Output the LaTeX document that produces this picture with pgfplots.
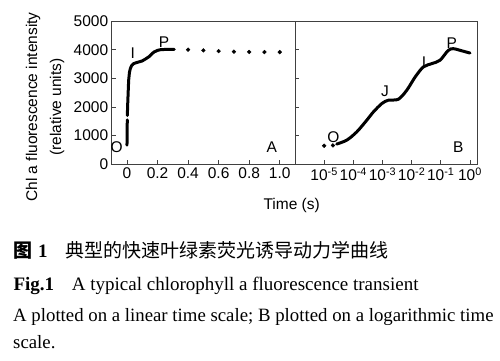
\documentclass[border=0pt]{standalone}
\usepackage{fontspec}
\setmainfont{Liberation Serif}
\setsansfont{Liberation Sans}
\newfontfamily\cjk{Noto Sans CJK SC}
\usepackage{pgfplots}
\pgfplotsset{compat=1.18}
\pgfplotsset{
  common/.style={
    scale only axis, height=143.3pt,
    ymin=0, ymax=5000,
    axis line style={black!75, line width=0.9pt},
    tick align=inside, major tick length=4pt,
    tick style={black!75, line width=0.8pt},
    xtick pos=left, ytick pos=left,
    tick label style={font=\sffamily\fontsize{15.5}{18}\selectfont},
    ytick={0,1000,2000,3000,4000,5000},
    minor tick num=0,
  },
  curve/.style={black, line width=3pt, line join=round, line cap=round, no marks},
  dots/.style={only marks, mark=*, mark size=1.9pt, black},
}
\begin{document}
\begin{tikzpicture}
\path[use as bounding box] (0pt,0pt) rectangle (500pt,360pt);
% Panel A
\begin{axis}[common, at={(111.7pt,195.7pt)}, anchor=south west, width=183.3pt,
  xmin=-0.1, xmax=1.1,
  xtick={0,0.2,0.4,0.6,0.8,1.0},
  xticklabels={0,0.2,0.4,0.6,0.8,1.0},
  yticklabels={0,1000,2000,3000,4000,5000}]
\addplot[curve] coordinates {
(0.000,670) (0.001,1000) (0.002,1550)};
\addplot[curve] coordinates {
(0.0025,1700) (0.004,2000) (0.007,2400) (0.011,2930) (0.016,3200) (0.022,3340)
(0.030,3440) (0.044,3513) (0.060,3545) (0.080,3575) (0.099,3605)
(0.120,3670) (0.143,3750) (0.160,3840) (0.176,3915) (0.200,3975)
(0.220,4000) (0.260,4010) (0.310,4010)};
\addplot[dots] coordinates {
(0.4,4000) (0.5,3975) (0.6,3950) (0.7,3930) (0.8,3920) (0.9,3915) (1.0,3915)};
\end{axis}
% Panel B
\begin{axis}[common, at={(295pt,195.7pt)}, anchor=south west, width=182pt,
  xmode=log, xmin=1e-6, xmax=1.74, xminorticks=false,
  xtick={1e-5,1e-4,1e-3,1e-2,1e-1,1},
  xticklabels={10\textsuperscript{-5},10\textsuperscript{-4},10\textsuperscript{-3},10\textsuperscript{-2},10\textsuperscript{-1},10\textsuperscript{0}},
  yticklabels={}]
\addplot[dots] coordinates {(1e-5,647) (2e-5,660)};
\addplot[curve, smooth, tension=0.5] coordinates {
(2.7e-5,706) (6e-5,845) (1.32e-4,1134) (2.9e-4,1540) (4.9e-4,1830)
(9.5e-4,2120) (1.58e-3,2236) (3.5e-3,2270) (6.8e-3,2584) (1.32e-2,3047)
(2.5e-2,3395) (4.9e-2,3513) (9.3e-2,3628) (0.18,3976) (0.27,4035)
(0.46,3976) (1.0,3882)};
\end{axis}
% in-plot letters
\begin{scope}[x=1pt,y=1pt,every node/.style={font=\sffamily\fontsize{15.5}{18}\selectfont, inner sep=0pt}]
\node at (116.7,213.3) {O};
\node at (132.7,306.7) {I};
\node at (164,318.3) {P};
\node at (271.7,213.3) {A};
\node at (333.3,223.3) {O};
\node at (385,268.3) {J};
\node at (424,298.3) {I};
\node at (451.7,317.3) {P};
\node at (458.3,213.3) {B};
\node at (291.7,155) {Time (s)};
\node[rotate=90, align=center, font=\sffamily\fontsize{15.5}{24}\selectfont] at (45,253)
  {Chl a fluorescence intensity\\(relative units)};
\end{scope}
% caption
\begin{scope}[x=1pt,y=1pt,every node/.style={inner sep=0pt, anchor=base west}]
\node at (13.3,102.7) {\cjk\fontsize{19}{22}\selectfont\bfseries 图\hspace{0.3em}{\rmfamily 1}};
\node at (65,102.7) {\cjk\fontsize{19}{22}\selectfont 典型的快速叶绿素荧光诱导动力学曲线};
\node at (13.3,70) {\fontsize{19}{22}\selectfont\bfseries Fig.1};
\node at (71.7,70) {\fontsize{19}{22}\selectfont A typical chlorophyll a fluorescence transient};
\node at (13,38.3) {\fontsize{18.8}{22}\selectfont A plotted on a linear time scale; B plotted on a logarithmic time};
\node at (13,11.7) {\fontsize{18.8}{22}\selectfont scale.};
\end{scope}
\end{tikzpicture}
\end{document}
